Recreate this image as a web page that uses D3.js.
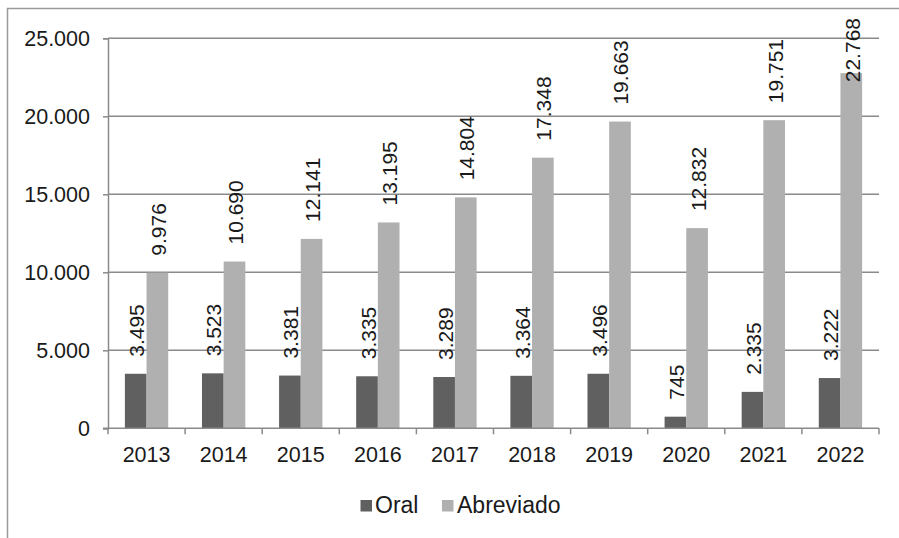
<!DOCTYPE html>
<html>
<head>
<meta charset="utf-8">
<script src="https://cdn.jsdelivr.net/npm/d3@7"></script>
<style>
  html, body { margin: 0; padding: 0; background: #fff; }
  svg { display: block; font-family: "Liberation Sans", Arial, sans-serif; }
</style>
</head>
<body>
<svg id="chart" width="899" height="538"></svg>
<script>
// Annual counts by procedure type
const years = ["2013", "2014", "2015", "2016", "2017", "2018", "2019", "2020", "2021", "2022"];
const oral = [3495, 3523, 3381, 3335, 3289, 3364, 3496, 745, 2335, 3222];
const abreviado = [9976, 10690, 12141, 13195, 14804, 17348, 19663, 12832, 19751, 22768];
const seriesNames = ["Oral", "Abreviado"];
const yTicks = [0, 5000, 10000, 15000, 20000, 25000];

const colors = { Oral: "#606060", Abreviado: "#b0b0b0" };
const values = { Oral: oral, Abreviado: abreviado };

const fmt = d3.formatLocale({ decimal: ",", thousands: ".", grouping: [3], currency: ["", ""] }).format(",d");

const svg = d3.select("#chart");
const W = 899, H = 538;
const plot = { left: 108, right: 879, top: 38.3, bottom: 428.3 };
const FS = 21.5;

// outer frame of the chart area
svg.append("rect")
  .attr("x", 7.5).attr("y", 8.5)
  .attr("width", W + 20).attr("height", H + 20)
  .attr("fill", "none").attr("stroke", "#9a9a9a").attr("stroke-width", 1.5);

const y = d3.scaleLinear().domain([0, 25000]).range([plot.bottom, plot.top]);
const x = d3.scaleBand().domain(years).range([plot.left, plot.right])
  .paddingInner(0.438).paddingOuter(0.219);
const xs = d3.scaleBand().domain(seriesNames).range([0, x.bandwidth()]);

// horizontal gridlines
svg.append("g").selectAll("line").data(yTicks.filter(d => d > 0)).join("line")
  .attr("x1", plot.left).attr("x2", plot.right)
  .attr("y1", d => y(d)).attr("y2", d => y(d))
  .attr("stroke", "#8a8a8a").attr("stroke-width", 1.5);

// y axis
const yAxis = svg.append("g").attr("transform", `translate(${plot.left},0)`)
  .call(d3.axisLeft(y).tickValues(yTicks).tickFormat(fmt).tickSize(5).tickPadding(13));
yAxis.select(".domain").attr("stroke", "#8a8a8a").attr("stroke-width", 1.5);
yAxis.selectAll(".tick line").attr("stroke", "#8a8a8a").attr("stroke-width", 1.5);
yAxis.selectAll(".tick text").attr("font-size", FS).attr("fill", "#1a1a1a")
  .attr("font-family", "Liberation Sans, Arial, sans-serif");

// bars
const groups = svg.append("g").selectAll("g").data(years).join("g")
  .attr("transform", d => `translate(${x(d)},0)`);

seriesNames.forEach(name => {
  groups.append("rect")
    .attr("x", xs(name))
    .attr("width", xs.bandwidth())
    .attr("y", (d, i) => y(values[name][i]))
    .attr("height", (d, i) => y(0) - y(values[name][i]))
    .attr("fill", colors[name]);
});

// x axis with category boundary ticks
const step = x.step();
const xAxis = svg.append("g");
xAxis.append("line")
  .attr("x1", plot.left - 5).attr("x2", plot.right)
  .attr("y1", plot.bottom).attr("y2", plot.bottom)
  .attr("stroke", "#8a8a8a").attr("stroke-width", 1.5);
const bounds = d3.range(years.length + 1).map(i => plot.left + i * step);
xAxis.selectAll(".bt").data(bounds).join("line").attr("class", "bt")
  .attr("x1", d => d).attr("x2", d => d)
  .attr("y1", plot.bottom).attr("y2", plot.bottom + 6)
  .attr("stroke", "#8a8a8a").attr("stroke-width", 1.5);
xAxis.selectAll("text").data(years).join("text")
  .attr("x", d => x(d) + x.bandwidth() / 2)
  .attr("y", 462)
  .attr("text-anchor", "middle")
  .attr("font-size", FS).attr("fill", "#1a1a1a")
  .text(d => d);

// value labels, rotated, above each bar
const labelLayer = svg.append("g");
seriesNames.forEach(name => {
  years.forEach((yr, i) => {
    const v = values[name][i];
    const cx = x(yr) + xs(name) + xs.bandwidth() / 2;
    const t = labelLayer.append("text")
      .attr("font-size", 21).attr("fill", "#1a1a1a")
      .attr("dominant-baseline", "central")
      .attr("text-anchor", "start")
      .text(fmt(v));
    const len = t.node().getComputedTextLength();
    let start = y(v) - 17;
    if (start - len < 18) start = 18 + len;
    t.attr("transform", `translate(${cx + 1},${start}) rotate(-90)`);
  });
});

// legend
const legend = svg.append("g");
const legendItems = [
  { name: "Oral", sx: 360.5, tx: 375 },
  { name: "Abreviado", sx: 442, tx: 457 }
];
legendItems.forEach(it => {
  legend.append("rect").attr("x", it.sx).attr("y", 500)
    .attr("width", 11.5).attr("height", 11.5).attr("fill", colors[it.name]);
  legend.append("text").attr("x", it.tx).attr("y", 513)
    .attr("font-size", 23).attr("fill", "#1a1a1a").text(it.name);
});
</script>
</body>
</html>
